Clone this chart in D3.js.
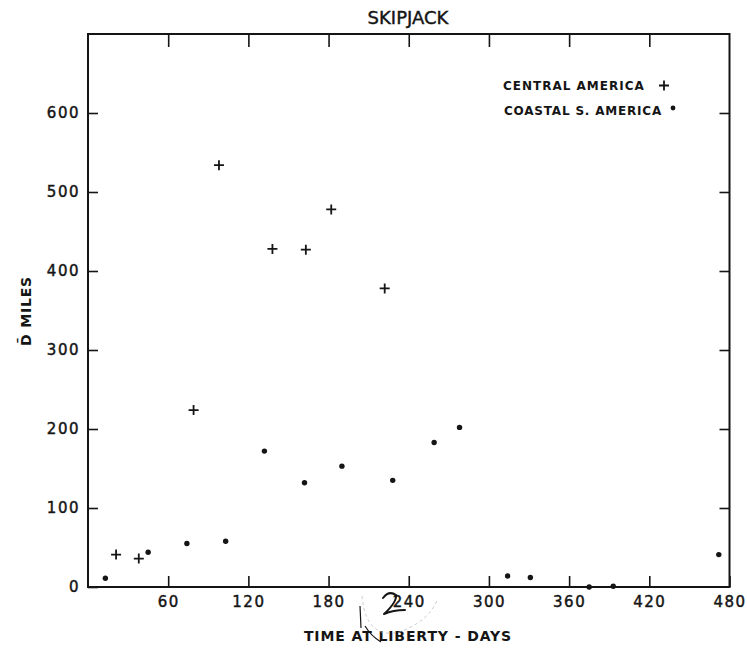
<!DOCTYPE html>
<html>
<head>
<meta charset="utf-8">
<script src="https://cdn.jsdelivr.net/npm/d3@7"></script>
<style>
  body { margin: 0; background: #fff; }
  text { fill: #151515; font-family: "DejaVu Sans", sans-serif; }
</style>
</head>
<body>
<svg id="chart" width="747" height="648"></svg>
<script>
// Central America recoveries (crosses)
const centralDays  = [21, 38, 79, 98, 138, 163, 182, 222];
const centralMiles = [41, 36, 224, 534, 428, 427, 478, 378];

// Coastal S. America recoveries (dots)
const coastalDays  = [13, 45, 74, 103, 132, 162, 190, 228, 259, 278, 314, 331, 375, 393, 472];
const coastalMiles = [11, 44, 55, 58, 172, 132, 153, 135, 183, 202, 14, 12, 0, 1, 41];

const xTicks = [60, 120, 180, 240, 300, 360, 420, 480];
const yTicks = [0, 100, 200, 300, 400, 500, 600];

const svg = d3.select('#chart');
const ink = '#151515';

// scales
const x = d3.scaleLinear().domain([0, 480]).range([88, 729.5]);
const y = d3.scaleLinear().domain([0, 700]).range([587, 34]);

// frame
svg.append('rect')
    .attr('x', x(0)).attr('y', y(700))
    .attr('width', x(480) - x(0)).attr('height', y(0) - y(700))
    .attr('fill', 'none').attr('stroke', ink).attr('stroke-width', 2);

function styleAxis(g) {
    g.select('.domain').remove();
    g.selectAll('line').attr('stroke', ink).attr('stroke-width', 1.6);
    g.selectAll('text')
        .attr('fill', ink)
        .attr('stroke', ink)
        .attr('stroke-width', 0.45)
        .style('font-family', '"DejaVu Sans", sans-serif')
        .style('font-size', '15px')
        .style('letter-spacing', '1.5px');
}

// bottom axis, ticks point inward
svg.append('g')
    .attr('transform', `translate(0,${y(0)})`)
    .call(d3.axisBottom(x).tickValues(xTicks).tickSizeInner(-11).tickSizeOuter(0).tickPadding(9))
    .call(styleAxis);

// left axis
svg.append('g')
    .attr('transform', `translate(${x(0)},0)`)
    .call(d3.axisLeft(y).tickValues(yTicks).tickSizeInner(-10).tickSizeOuter(0).tickPadding(8))
    .call(styleAxis);

// top and right ticks, no labels
svg.append('g')
    .attr('transform', `translate(0,${y(700)})`)
    .call(d3.axisTop(x).tickValues(xTicks.slice(0, -1)).tickSizeInner(-13).tickSizeOuter(0).tickFormat(''))
    .call(styleAxis);

svg.append('g')
    .attr('transform', `translate(${x(480)},0)`)
    .call(d3.axisRight(y).tickValues(yTicks.slice(1)).tickSizeInner(-10).tickSizeOuter(0).tickFormat(''))
    .call(styleAxis);

// title
svg.append('text')
    .attr('x', 408).attr('y', 24)
    .attr('text-anchor', 'middle')
    .attr('stroke', ink).attr('stroke-width', 0.4)
    .style('font-size', '18px')
    .text('SKIPJACK');

// axis titles
svg.append('text')
    .attr('x', 408).attr('y', 641)
    .attr('text-anchor', 'middle')
    .style('font-size', '14px')
    .style('font-weight', 'bold')
    .style('letter-spacing', '0.9px')
    .text('TIME AT LIBERTY - DAYS');

svg.append('text')
    .attr('transform', 'translate(31,311) rotate(-90)')
    .attr('text-anchor', 'middle')
    .style('font-size', '14px')
    .style('font-weight', 'bold')
    .style('letter-spacing', '0.8px')
    .text('D\u0304  MILES');

// handwritten pencil note on the 240 label
svg.append('path')
    .attr('d', 'M383,598 Q389,590 396,595 Q397,602 384,614 Q393,610 405,610')
    .attr('fill', 'none').attr('stroke', ink).attr('stroke-width', 2)
    .attr('stroke-linecap', 'round').attr('stroke-linejoin', 'round');
svg.append('path')
    .attr('d', 'M360,606 L361,628 M365,626 Q371,636 381,642')
    .attr('fill', 'none').attr('stroke', ink).attr('stroke-width', 1.2);
svg.append('path')
    .attr('d', 'M362,596 Q366,640 400,632 Q430,620 437,600')
    .attr('fill', 'none').attr('stroke', '#bbb').attr('stroke-width', 0.8)
    .attr('stroke-dasharray', '3,3');

// data: crosses
const centralData = centralDays.map((d, i) => ({ day: d, miles: centralMiles[i] }));
const coastalData = coastalDays.map((d, i) => ({ day: d, miles: coastalMiles[i] }));

svg.selectAll('.cross')
    .data(centralData)
    .enter().append('path')
    .attr('class', 'cross')
    .attr('d', d => `M${x(d.day) - 5},${y(d.miles)}h10M${x(d.day)},${y(d.miles) - 5}v10`)
    .attr('stroke', ink)
    .attr('stroke-width', 1.8);

svg.selectAll('.dot')
    .data(coastalData)
    .enter().append('circle')
    .attr('class', 'dot')
    .attr('cx', d => x(d.day))
    .attr('cy', d => y(d.miles))
    .attr('r', 2.7)
    .attr('fill', ink);

// legend
const legend = svg.append('g');
legend.append('text')
    .attr('x', 503).attr('y', 89.5)
    .style('font-size', '12px').style('font-weight', 'bold').style('letter-spacing', '1px')
    .text('CENTRAL AMERICA');
legend.append('path')
    .attr('d', 'M659,85.5h10M664,80.5v10')
    .attr('stroke', ink).attr('stroke-width', 1.8);
legend.append('text')
    .attr('x', 504).attr('y', 114.5)
    .style('font-size', '12px').style('font-weight', 'bold').style('letter-spacing', '0.8px')
    .text('COASTAL S. AMERICA');
legend.append('circle')
    .attr('cx', 673).attr('cy', 108).attr('r', 2.4).attr('fill', ink);
</script>
</body>
</html>
